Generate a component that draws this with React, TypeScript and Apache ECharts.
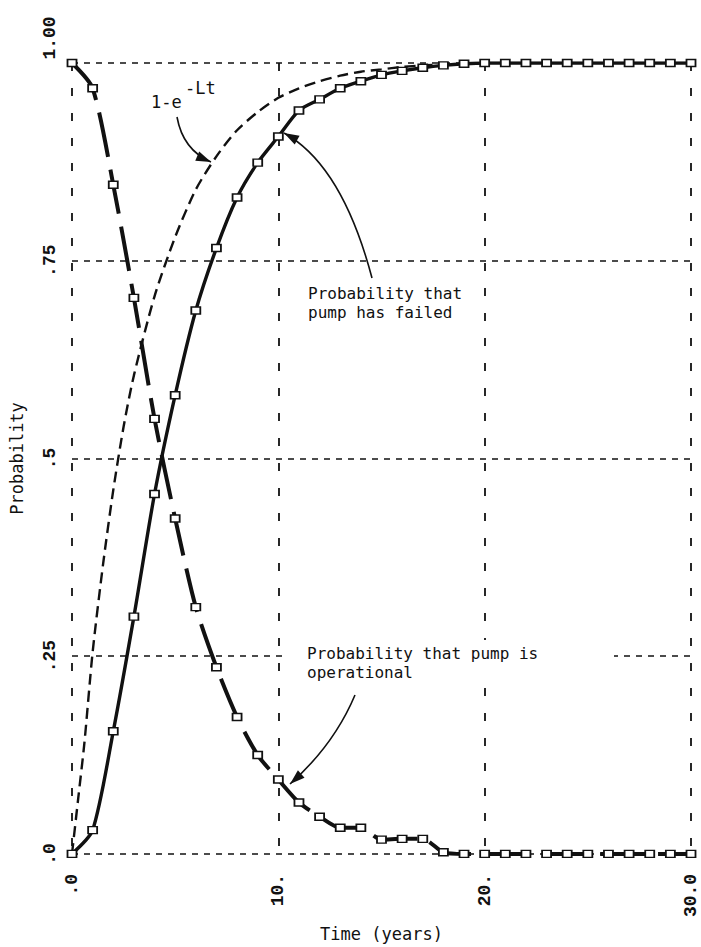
import React, { useEffect, useRef } from "react";
import * as echarts from "echarts";

// ---------- data ----------
const years = [0, 1, 2, 3, 4, 5, 6, 7, 8, 9, 10, 11, 12, 13, 14, 15, 16, 17, 18, 19, 20, 21, 22, 23, 24, 25, 26, 27, 28, 29, 30];
const failedProb = [0, 0.03, 0.155, 0.3, 0.455, 0.58, 0.687, 0.766, 0.83, 0.874, 0.907, 0.94, 0.954, 0.968, 0.977, 0.985, 0.99, 0.994, 0.997, 0.999, 1, 1, 1, 1, 1, 1, 1, 1, 1, 1, 1];
const operationalProb = [1, 0.968, 0.846, 0.703, 0.55, 0.424, 0.312, 0.236, 0.173, 0.125, 0.094, 0.065, 0.047, 0.033, 0.033, 0.018, 0.019, 0.019, 0.002, 0, 0, 0, 0, 0, 0, 0, 0, 0, 0, 0, 0];
const expTime = [0, 0.3, 0.6, 1, 1.5, 2, 2.5, 3, 4, 5, 6, 7, 8, 9, 10, 11, 12, 13, 14, 15, 16, 17, 18, 20];
const expProb = [0, 0.07, 0.14, 0.255, 0.365, 0.46, 0.54, 0.605, 0.705, 0.78, 0.84, 0.882, 0.915, 0.938, 0.956, 0.968, 0.977, 0.984, 0.989, 0.992, 0.995, 0.997, 0.998, 1];
const xTickValues = [0, 10, 20, 30];
const xTickLabels = [".0", "10.", "20.", "30.0"];
const yTickValues = [0, 0.25, 0.5, 0.75, 1];
const yTickLabels = [".0", ".25", ".5", ".75", "1.00"];

const FONT_TEXT = '"DejaVu Sans Mono", "Liberation Mono", monospace';
const FONT_TICK = '"Liberation Mono", "DejaVu Sans Mono", monospace';
const INK = "#111";

function arrowHead(tipX: number, tipY: number, fromX: number, fromY: number, len = 15, half = 5) {
  const dx = tipX - fromX;
  const dy = tipY - fromY;
  const d = Math.hypot(dx, dy);
  const ux = dx / d;
  const uy = dy / d;
  const bx = tipX - ux * len;
  const by = tipY - uy * len;
  return [
    [tipX, tipY],
    [bx - uy * half, by + ux * half],
    [bx + uy * half, by - ux * half],
  ];
}

const arrows = [
  { x1: 177, y1: 117, cx: 183, cy: 150, x2: 211, y2: 162 },
  { x1: 372, y1: 278, cx: 342, cy: 165, x2: 284, y2: 133 },
  { x1: 355, y1: 695, cx: 334, cy: 745, x2: 290, y2: 784 },
];

const notes = [
  { x: 151, y: 102, text: "1-e", size: 17 },
  { x: 185, y: 88, text: "-Lt", size: 17 },
  { x: 308, y: 293, text: "Probability that", size: 16 },
  { x: 308, y: 312, text: "pump has failed", size: 16 },
  { x: 307, y: 653, text: "Probability that pump is", size: 16 },
  { x: 307, y: 672, text: "operational", size: 16 },
];

export default function App() {
  const ref = useRef<HTMLDivElement>(null);

  useEffect(() => {
    if (!ref.current) return;
    const chart = echarts.init(ref.current, undefined, { renderer: "svg" });

    const xLabel = (v: number) => {
      const i = xTickValues.indexOf(v);
      return i >= 0 ? xTickLabels[i] : "";
    };
    const yLabel = (v: number) => {
      const i = yTickValues.indexOf(v);
      if (i < 0) return "";
      if (v === 1) return "{top|" + yTickLabels[i] + "}";
      return yTickLabels[i];
    };

    const graphic: any[] = [
      {
        type: "rect",
        z: 1,
        shape: { x: 284, y: 640, width: 330, height: 44 },
        style: { fill: "#fff" },
      },
    ];
    arrows.forEach((a) => {
      graphic.push({
        type: "bezierCurve",
        z: 10,
        shape: { x1: a.x1, y1: a.y1, cpx1: a.cx, cpy1: a.cy, x2: a.x2, y2: a.y2 },
        style: { stroke: INK, lineWidth: 1.6, fill: "none" },
      });
      graphic.push({
        type: "polygon",
        z: 10,
        shape: { points: arrowHead(a.x2, a.y2, a.cx, a.cy) },
        style: { fill: INK },
      });
    });
    notes.forEach((n) => {
      graphic.push({
        type: "text",
        z: 10,
        x: n.x,
        y: n.y,
        style: {
          text: n.text,
          font: `${n.size}px ${FONT_TEXT}`,
          fill: INK,
          verticalAlign: "middle",
        },
      });
    });

    const markerStyle = { color: "#fff", borderColor: INK, borderWidth: 1.6 };

    chart.setOption({
      animation: false,
      backgroundColor: "#fff",
      grid: { left: 67, right: 10, top: 63, bottom: 85, containLabel: false },
      xAxis: {
        type: "value",
        min: 0,
        max: 30,
        interval: 10,
        name: "Time (years)",
        nameLocation: "middle",
        nameGap: 68,
        nameTextStyle: { fontFamily: FONT_TEXT, fontSize: 17, color: INK },
        axisLine: { show: false },
        axisTick: { show: false },
        axisLabel: {
          rotate: 90,
          margin: 20,
          formatter: xLabel,
          fontFamily: FONT_TICK,
          fontSize: 18,
          fontWeight: "bold",
          color: INK,
        },
        splitLine: {
          show: true,
          lineStyle: { color: INK, width: 1.8, type: [8, 17] },
        },
      },
      yAxis: {
        type: "value",
        min: 0,
        max: 1,
        interval: 0.25,
        name: "Probability",
        nameLocation: "middle",
        nameRotate: 90,
        nameGap: 47,
        nameTextStyle: { fontFamily: FONT_TEXT, fontSize: 17, color: INK },
        axisLine: { show: false },
        axisTick: { show: false },
        axisLabel: {
          rotate: 90,
          margin: 13,
          formatter: yLabel,
          fontFamily: FONT_TICK,
          fontSize: 18,
          fontWeight: "bold",
          color: INK,
          rich: {
            top: {
              fontFamily: FONT_TICK,
              fontSize: 18,
              fontWeight: "bold",
              color: INK,
              padding: [0, 0, 0, 50],
            },
          },
        },
        splitLine: {
          show: true,
          lineStyle: { color: INK, width: 1.5, type: [6, 6] },
        },
      },
      series: [
        {
          name: "1-e^-Lt",
          type: "line",
          data: expTime.map((t, i) => [t, expProb[i]]),
          smooth: 0.25,
          showSymbol: false,
          lineStyle: { color: INK, width: 2.4, type: [11, 6] },
          z: 3,
        },
        {
          name: "Probability that pump has failed",
          type: "line",
          data: years.map((t, i) => [t, failedProb[i]]),
          smooth: 0.25,
          symbol: "rect",
          symbolSize: [9, 7],
          itemStyle: markerStyle,
          lineStyle: { color: INK, width: 3.4 },
          z: 4,
        },
        {
          name: "Probability that pump is operational",
          type: "line",
          data: years.map((t, i) => [t, operationalProb[i]]),
          smooth: 0.25,
          symbol: "rect",
          symbolSize: [9, 7],
          itemStyle: markerStyle,
          lineStyle: { color: INK, width: 4, type: [45, 13] },
          z: 4,
        },
      ],
      graphic,
    });

    return () => chart.dispose();
  }, []);

  return (
    <div
      ref={ref}
      style={{ position: "absolute", left: 0, top: 0, width: 701, height: 947, background: "#fff" }}
    />
  );
}
